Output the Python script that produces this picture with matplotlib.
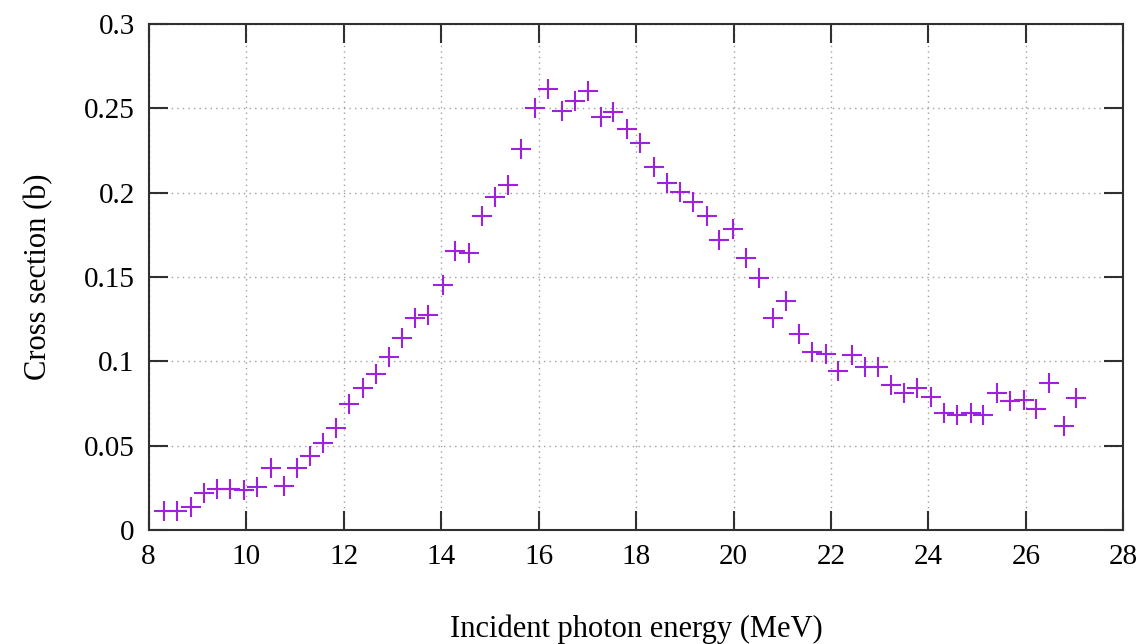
import numpy as np
import matplotlib.pyplot as plt

# Incident photon energy (MeV)
energy = [8.32, 8.59, 8.87, 9.14, 9.41, 9.67, 9.95, 10.22, 10.51, 10.77,
          11.04, 11.31, 11.57, 11.85, 12.12, 12.39, 12.67, 12.93, 13.20, 13.47,
          13.73, 14.04, 14.29, 14.58, 14.84, 15.11, 15.38, 15.64, 15.93, 16.20,
          16.48, 16.75, 17.01, 17.28, 17.53, 17.81, 18.08, 18.36, 18.63, 18.90,
          19.16, 19.45, 19.71, 19.98, 20.26, 20.53, 20.80, 21.07, 21.34, 21.62,
          21.89, 22.15, 22.43, 22.70, 22.97, 23.23, 23.50, 23.77, 24.05, 24.32,
          24.59, 24.87, 25.12, 25.40, 25.67, 25.95, 26.21, 26.48, 26.77, 27.03]

# Cross section (b)
xsec = [0.0115, 0.0115, 0.0138, 0.0217, 0.0241, 0.0241, 0.0237, 0.0257, 0.0365, 0.0261,
        0.0365, 0.0439, 0.0514, 0.0603, 0.0747, 0.0840, 0.0925, 0.1026, 0.1138, 0.1257,
        0.1274, 0.1452, 0.1656, 0.1640, 0.1861, 0.1976, 0.2045, 0.2257, 0.2504, 0.2612,
        0.2486, 0.2545, 0.2602, 0.2450, 0.2480, 0.2377, 0.2296, 0.2154, 0.2059, 0.2006,
        0.1943, 0.1863, 0.1719, 0.1782, 0.1611, 0.1492, 0.1259, 0.1357, 0.1162, 0.1057,
        0.1043, 0.0944, 0.1037, 0.0964, 0.0968, 0.0860, 0.0814, 0.0844, 0.0790, 0.0692,
        0.0682, 0.0696, 0.0682, 0.0810, 0.0767, 0.0771, 0.0717, 0.0870, 0.0618, 0.0781]

xticks = [8, 10, 12, 14, 16, 18, 20, 22, 24, 26, 28]
yticks = [0, 0.05, 0.1, 0.15, 0.2, 0.25, 0.3]
ytick_labels = ["0", "0.05", "0.1", "0.15", "0.2", "0.25", "0.3"]

plt.rcParams['font.family'] = ['Liberation Serif', 'DejaVu Serif']

fig = plt.figure(figsize=(11.47, 6.44), dpi=100)
ax = fig.add_axes([0.1295, 0.177, 0.85, 0.7857])

ax.plot(energy, xsec, linestyle='none', marker='+', markersize=14,
        markeredgewidth=1.5, color='#a020e0')

ax.set_xlim(8, 28)
ax.set_ylim(0, 0.3)
ax.set_xticks(xticks)
ax.set_yticks(yticks)
ax.set_yticklabels(ytick_labels)
ax.grid(True, linestyle=(0, (1, 3)), color='#a0a0a0', linewidth=1.0)

ax.tick_params(direction='in', length=14, width=1.5, color='#303030',
               labelsize=21, top=True, right=True, pad=10)
for s in ax.spines.values():
    s.set_linewidth(1.5)
    s.set_color('#303030')

ax.set_xlabel("Incident photon energy (MeV)", fontsize=22, labelpad=32)
ax.set_ylabel("Cross section (b)", fontsize=22, labelpad=22)

fig.savefig("out.png", dpi=100)
